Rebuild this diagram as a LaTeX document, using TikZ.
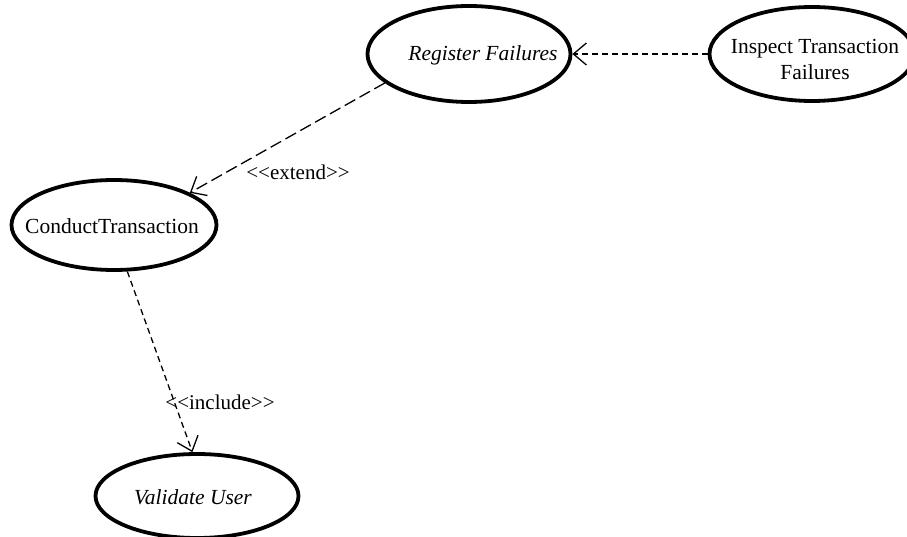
\documentclass[tikz,border=0pt]{standalone}
\usepackage{fontspec}
\setmainfont{Liberation Serif}
\usetikzlibrary{arrows.meta,shapes.geometric}
\begin{document}
\begin{tikzpicture}[x=1pt,y=-1pt,
  usecase/.style={draw=black,line width=3.8pt,ellipse,inner sep=0pt},
  uctext/.style={font=\fontsize{21.5}{26}\selectfont,align=center,inner sep=0pt},
  dep/.style={line width=1.3pt,-{Straight Barb[length=13pt,width=22pt,line width=1.3pt]}},
  lbl/.style={font=\fontsize{21}{24}\selectfont,inner sep=1pt}]
\useasboundingbox (0,0) rectangle (907,537);
\node[usecase,minimum width=203pt,minimum height=96pt] (reg) at (469,54) {};
\node[usecase,minimum width=205pt,minimum height=94pt] (insp) at (812,54) {};
\node[usecase,minimum width=205pt,minimum height=90pt] (cond) at (114,225) {};
\node[usecase,minimum width=203pt,minimum height=84pt] (val) at (197,496) {};
\node[uctext] (regt) at (483,55) {\itshape Register Failures};
\node[uctext] (inspt) at (815,59) {Inspect Transaction\\Failures};
\node[uctext] (condt) at (112,226) {ConductTransaction};
\node[uctext] (valt) at (193,497) {\itshape Validate User};
\draw[dep,dash pattern=on 6pt off 4pt] (insp.west) -- (reg.east);
\draw[dep,dash pattern=on 12pt off 5pt] (reg.-161) -- (cond.23);
\draw[dep,dash pattern=on 6pt off 4pt] (cond.-74) -- (val.96);
\node[lbl] (ext) at (298,172) {{<}{<}extend{>}{>}};
\node[lbl] (inc) at (220,402) {{<}{<}include{>}{>}};
\end{tikzpicture}
\end{document}
